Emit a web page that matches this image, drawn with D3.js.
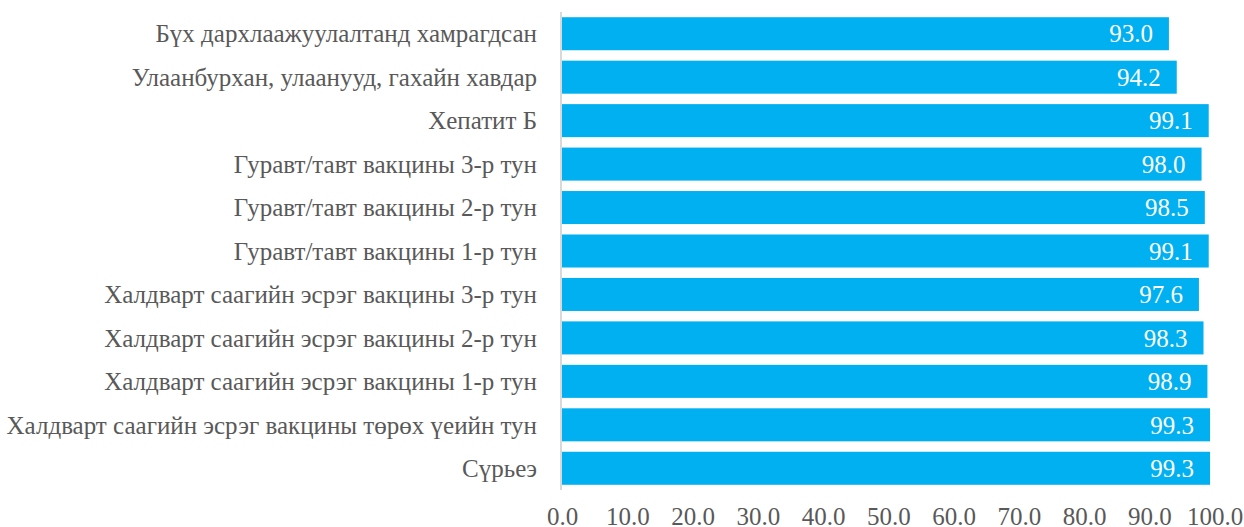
<!DOCTYPE html>
<html><head><meta charset="utf-8">
<script src="https://cdn.jsdelivr.net/npm/d3@7"></script>
<style>body{margin:0;background:#fff}svg{display:block}</style>
</head><body>
<svg id="c" width="1244" height="527"></svg>
<script>
const categories = [
  "Бүх дархлаажуулалтанд хамрагдсан",
  "Улаанбурхан, улаанууд, гахайн хавдар",
  "Хепатит Б",
  "Гуравт/тавт вакцины 3-р тун",
  "Гуравт/тавт вакцины 2-р тун",
  "Гуравт/тавт вакцины 1-р тун",
  "Халдварт саагийн эсрэг вакцины 3-р тун",
  "Халдварт саагийн эсрэг вакцины 2-р тун",
  "Халдварт саагийн эсрэг вакцины 1-р тун",
  "Халдварт саагийн эсрэг вакцины төрөх үеийн тун",
  "Сүрьеэ"
];
const values = [93.0, 94.2, 99.1, 98.0, 98.5, 99.1, 97.6, 98.3, 98.9, 99.3, 99.3];
const ticks = [0,10,20,30,40,50,60,70,80,90,100];

const svg = d3.select("#c");
const font = "Liberation Serif";
const x = d3.scaleLinear().domain([0,100]).range([562, 1214.6]);
const y = d3.scaleBand().domain(categories).range([12, 490]).paddingInner(0.24).paddingOuter(0.12);

svg.selectAll("rect.bar").data(values).enter().append("rect")
  .attr("class","bar")
  .attr("x", x(0))
  .attr("y", (d,i)=>y(categories[i]))
  .attr("width", d=>x(d)-x(0))
  .attr("height", y.bandwidth())
  .attr("fill", "#00B0F0");

svg.append("line").attr("x1", x(0)-1).attr("x2", x(0)-1).attr("y1", 12).attr("y2", 490)
  .attr("stroke", "#d9d9d9").attr("stroke-width", 2);

svg.selectAll("text.val").data(values).enter().append("text")
  .attr("x", d=>x(d)-16)
  .attr("y", (d,i)=>y(categories[i])+y.bandwidth()/2)
  .attr("dy","0.35em")
  .attr("text-anchor","end")
  .style("font-family", font).style("font-size", "25px").attr("fill","#fff")
  .text(d=>d.toFixed(1));

svg.selectAll("text.cat").data(categories).enter().append("text")
  .attr("x", 537)
  .attr("y", d=>y(d)+y.bandwidth()/2)
  .attr("dy","0.35em")
  .attr("text-anchor","end")
  .style("font-family", font).style("font-size", "25px").attr("fill","#595959")
  .text(d=>d);

const xAxis = d3.axisBottom(x).tickValues(ticks).tickFormat(d=>d.toFixed(1)).tickSize(0).tickPadding(0);
const g = svg.append("g").attr("transform","translate(0,525)").call(xAxis);
g.select(".domain").remove();
g.selectAll("text").style("font-family", font).style("font-size", "25px").attr("fill","#595959").attr("dy","0").attr("y",0);
</script>
</body></html>
